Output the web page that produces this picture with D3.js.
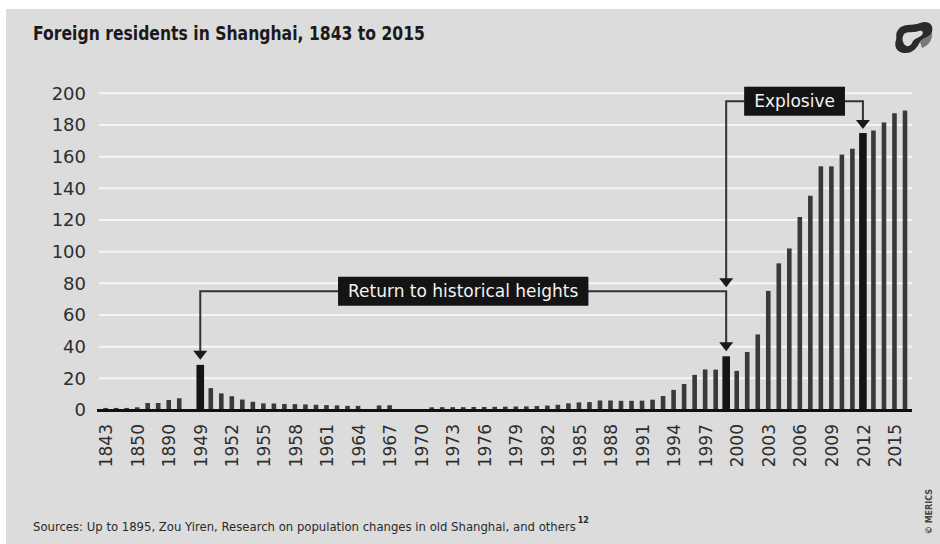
<!DOCTYPE html>
<html>
<head>
<meta charset="utf-8">
<script src="https://cdn.jsdelivr.net/npm/d3@7"></script>
<style>
  html, body { margin: 0; padding: 0; background: #fff; }
  svg { display: block; }
  text { font-family: "DejaVu Sans", "Noto Sans", sans-serif; }
</style>
</head>
<body>
<svg id="chart" width="940" height="544"></svg>
<script>
// Foreign residents in Shanghai (thousands), one slot per recorded year.
// Slots with null carry no recorded figure and are left empty.
const years = [
  "1843","1844","1845","1850","1865","1870","1890","1895","1942",
  "1949","1950","1951","1952","1953","1954","1955","1956","1957","1958","1959",
  "1960","1961","1962","1963","1964","1965","1966","1967","1968","1969",
  "1970","1971","1972","1973","1974","1975","1976","1977","1978","1979",
  "1980","1981","1982","1983","1984","1985","1986","1987","1988","1989",
  "1990","1991","1992","1993","1994","1995","1996","1997","1998","1999",
  "2000","2001","2002","2003","2004","2005","2006","2007","2008","2009",
  "2010","2011","2012","2013","2014","2015","2016"
];
const residents = [
  1.3, 1.3, 1.3, 1.7, 4.4, 4.4, 6.3, 7.4, null,
  28.5, 13.8, 10.5, 8.7, 6.6, 5.2, 4.2, 4.1, 3.8, 3.7, 3.5,
  3.3, 3.1, 2.9, 2.6, 2.6, null, 2.9, 3.0, null, null,
  null, 1.7, 1.8, 1.8, 1.8, 1.9, 1.9, 2.0, 2.1, 2.2,
  2.3, 2.5, 2.8, 3.3, 4.2, 4.8, 5.0, 6.0, 6.0, 5.8,
  5.8, 5.9, 6.5, 8.8, 12.7, 16.4, 22.2, 25.6, 25.5, 33.9,
  24.7, 36.6, 47.7, 75.2, 92.6, 102.0, 121.9, 135.3, 153.9, 153.9,
  161.3, 165.0, 174.9, 176.5, 181.6, 187.4, 189.1
];
const highlightYears = ["1949", "1999", "2012"];
const xTickLabels = [
  "1843","1850","1890","1949","1952","1955","1958","1961","1964","1967",
  "1970","1973","1976","1979","1982","1985","1988","1991","1994","1997",
  "2000","2003","2006","2009","2012","2015"
];
const yTickValues = [0, 20, 40, 60, 80, 100, 120, 140, 160, 180, 200];

const titleText = "Foreign residents in Shanghai, 1843 to 2015";
const sourceText = "Sources: Up to 1895, Zou Yiren, Research on population changes in old Shanghai, and others";
const sourceNote = "12";
const creditText = "© MERICS";

// Annotations: which bars they join and at what value level the connector runs
const returnNote = { label: "Return to historical heights", from: "1949", to: "1999", level: 75 };
const explosiveNote = { label: "Explosive", from: "1999", to: "2012", level: 195 };

const data = years.map((y, i) => ({ year: y, value: residents[i] }));

const svg = d3.select("#chart");
const W = 940, H = 544;

// Panel background
svg.append("rect").attr("x", 0).attr("y", 0).attr("width", W).attr("height", H).attr("fill", "#ffffff");
svg.append("rect").attr("x", 6).attr("y", 9).attr("width", W - 6).attr("height", H - 9).attr("fill", "#dcdcdc");

// Scales
const plotLeft = 97, plotRight = 912, baseY = 410;
const x = d3.scalePoint().domain(years).range([105.6, 905]);
const y = d3.scaleLinear().domain([0, 200]).range([baseY, 93.3]);

// Gridlines
svg.append("g").selectAll("line")
  .data(yTickValues.filter(v => v > 0))
  .join("line")
  .attr("x1", plotLeft + 2).attr("x2", plotRight)
  .attr("y1", d => y(d)).attr("y2", d => y(d))
  .attr("stroke", "#f6f6f6").attr("stroke-width", 2);

// Y axis labels
const yAxis = svg.append("g")
  .attr("transform", `translate(${plotLeft},0)`)
  .call(d3.axisLeft(y).tickValues(yTickValues).tickSize(0).tickPadding(11));
yAxis.select(".domain").remove();
yAxis.selectAll("text")
  .attr("font-size", 18).attr("fill", "#2e2e2e")
  .attr("font-family", "'DejaVu Sans', sans-serif");

// Bars
const normalW = 4.6, highW = 7.6;
svg.append("g").selectAll("rect")
  .data(data.filter(d => d.value != null))
  .join("rect")
  .attr("x", d => x(d.year) - (highlightYears.includes(d.year) ? highW : normalW) / 2)
  .attr("width", d => highlightYears.includes(d.year) ? highW : normalW)
  .attr("y", d => y(d.value))
  .attr("height", d => baseY - y(d.value))
  .attr("fill", d => highlightYears.includes(d.year) ? "#141414" : "#393939");

// Baseline
svg.append("line")
  .attr("x1", plotLeft).attr("x2", plotRight)
  .attr("y1", baseY + 0.5).attr("y2", baseY + 0.5)
  .attr("stroke", "#111").attr("stroke-width", 3);

// X axis labels, rotated
const xAxis = svg.append("g")
  .attr("transform", `translate(0,${baseY})`)
  .call(d3.axisBottom(x).tickValues(xTickLabels).tickSize(0));
xAxis.select(".domain").remove();
xAxis.selectAll("text")
  .attr("transform", "rotate(-90)")
  .attr("text-anchor", "end")
  .attr("x", -14).attr("y", 0).attr("dy", "0.36em")
  .attr("font-size", 17).attr("fill", "#2e2e2e")
  .attr("font-family", "'DejaVu Sans', sans-serif");

// Annotation helpers
const lineColor = "#333";
const ann = svg.append("g");
function arrowDown(cx, tipY) {
  ann.append("path")
    .attr("d", `M${cx - 7},${tipY - 9} L${cx + 7},${tipY - 9} L${cx},${tipY} Z`)
    .attr("fill", "#1a1a1a");
}
function labelBox(text, cx, cy, padX) {
  const g = ann.append("g");
  const t = g.append("text")
    .attr("x", cx).attr("y", cy + 6)
    .attr("text-anchor", "middle")
    .attr("font-size", 17).attr("fill", "#f2f2f2")
    .text(text);
  const w = t.node().getComputedTextLength() + padX * 2;
  g.insert("rect", "text")
    .attr("x", cx - w / 2).attr("y", cy - 14.5)
    .attr("width", w).attr("height", 29)
    .attr("fill", "#141414");
  return w;
}
function valueOf(yr) { return residents[years.indexOf(yr)]; }

// "Return to historical heights"
{
  const x1 = x(returnNote.from), x2 = x(returnNote.to), ly = y(returnNote.level);
  const tip1 = y(valueOf(returnNote.from)) - 5, tip2 = y(valueOf(returnNote.to)) - 5;
  ann.append("path")
    .attr("d", `M${x1},${tip1 - 8} L${x1},${ly} L${x2},${ly} L${x2},${tip2 - 8}`)
    .attr("fill", "none").attr("stroke", lineColor).attr("stroke-width", 2);
  arrowDown(x1, tip1);
  arrowDown(x2, tip2);
  labelBox(returnNote.label, (x1 + x2) / 2, ly, 10);
}

// "Explosive"
{
  const x1 = x(explosiveNote.from), x2 = x(explosiveNote.to), ly = y(explosiveNote.level);
  const tip1 = y(returnNote.level) - 4, tip2 = y(valueOf(explosiveNote.to)) - 4;
  ann.append("path")
    .attr("d", `M${x1},${tip1 - 8} L${x1},${ly} L${x2},${ly} L${x2},${tip2 - 8}`)
    .attr("fill", "none").attr("stroke", lineColor).attr("stroke-width", 2);
  arrowDown(x1, tip1);
  arrowDown(x2, tip2);
  labelBox(explosiveNote.label, (x1 + x2) / 2, ly, 10);
}

// Title
const condensed = "'Liberation Sans Narrow','DejaVu Sans Condensed','Roboto Condensed',Roboto,sans-serif";
svg.append("text")
  .attr("x", 33).attr("y", 40)
  .attr("font-size", 19).attr("font-weight", "bold").attr("fill", "#1a1a1a")
  .attr("font-family", condensed)
  .attr("textLength", 392).attr("lengthAdjust", "spacingAndGlyphs")
  .text(titleText);

// Source line: sized to its natural width, then the note number follows it
const src = svg.append("text")
  .attr("x", 33).attr("y", 531)
  .attr("font-size", 14).attr("fill", "#2a2a2a")
  .attr("font-family", "'Liberation Sans', Arimo, sans-serif")
  .text(sourceText);
const natural = src.node().getComputedTextLength();
const srcSize = Math.min(14.5, 14 * 543 / natural);
src.attr("font-size", srcSize);
const srcEnd = 33 + src.node().getComputedTextLength();
svg.append("text")
  .attr("x", srcEnd + 2).attr("y", 523)
  .attr("font-size", 8).attr("font-weight", "bold").attr("fill", "#2a2a2a")
  .attr("font-family", "'Liberation Sans', Arimo, sans-serif")
  .text(sourceNote);

// Credit, running up the right edge
svg.append("text")
  .attr("transform", "translate(932,489) rotate(-90)")
  .attr("text-anchor", "end")
  .attr("font-size", 8).attr("font-weight", "bold").attr("fill", "#444")
  .text(creditText);

// Logo mark, top right
const logo = svg.append("g").attr("transform", "translate(892,20)");
logo.append("path")
  .attr("d", "M6,10 C10,3 20,6 28,3 C36,0 42,4 40,12 C38,18 31,17 28,22 C25,28 20,34 12,33 C4,32 2,26 4,20 C5,16 3,14 6,10 Z")
  .attr("fill", "#2a2a2a");
logo.append("path")
  .attr("d", "M12,14 C16,11 22,13 27,11 C30,10 32,12 30,15 C27,18 22,18 20,23 C18,27 14,27 12,24 C10,21 10,17 12,14 Z")
  .attr("fill", "#dcdcdc");
logo.append("path")
  .attr("d", "M28,22 C31,17 38,18 40,12 C41,20 36,26 30,28 Z")
  .attr("fill", "#777");
</script>
</body>
</html>
